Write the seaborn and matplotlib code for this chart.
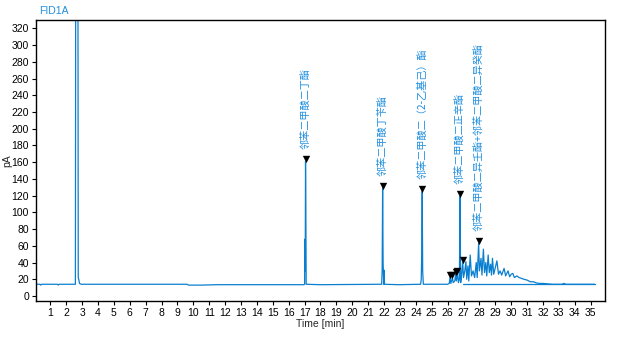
import matplotlib
matplotlib.use("Agg")
import matplotlib.pyplot as plt
import seaborn as sns
import pandas as pd

# Chromatogram trace (time in min, signal in pA)
time = [0.10, 0.35, 0.40, 0.45, 1.45, 1.50, 1.55, 2.58, 2.60, 2.74, 2.76, 2.79, 2.84, 2.95,
        9.0, 9.6, 9.7, 10.5, 11.5, 12.0, 14.5, 16.95, 17.00, 17.02, 17.04, 17.06, 17.08, 17.10,
        18.0, 21.85, 21.88, 21.91, 21.94, 21.98, 22.00, 22.03, 22.9, 24.30, 24.34, 24.37, 24.40,
        24.43, 24.47, 25.5, 26.00, 26.10, 26.15, 26.20, 26.30, 26.35, 26.45, 26.50, 26.55,
        26.62, 26.68, 26.74, 26.78, 26.82, 26.88, 26.95, 27.00, 27.08, 27.15, 27.20, 27.28,
        27.33, 27.42, 27.50, 27.60, 27.70, 27.80, 27.86, 27.95, 28.00, 28.10, 28.16, 28.25,
        28.32, 28.40, 28.46, 28.55, 28.62, 28.70, 28.76, 28.82, 28.90, 29.00, 29.10, 29.20,
        29.30, 29.40, 29.55, 29.65, 29.80, 29.90, 30.00, 30.10, 30.20, 30.35, 30.50, 30.65,
        30.80, 31.00, 31.20, 31.40, 31.60, 31.80, 32.00, 32.30, 32.60, 33.20, 33.30, 33.45,
        34.00, 35.25]
signal = [14.0, 14.0, 13.0, 14.0, 14.0, 13.0, 14.0, 14.0, 400.0, 400.0, 22.0, 20.0, 15.0, 14.0,
          14.0, 14.0, 13.0, 13.0, 13.5, 13.5, 13.5, 13.5, 14.0, 68.0, 30.0, 161.0, 100.0, 14.0,
          13.5, 14.0, 30.0, 129.0, 40.0, 14.0, 31.0, 14.0, 13.5, 14.0, 20.0, 50.0, 125.0,
          30.0, 14.0, 14.0, 14.0, 15.0, 22.0, 15.0, 22.0, 16.0, 18.0, 26.0, 18.0,
          27.0, 16.0, 20.0, 119.0, 16.0, 25.0, 40.0, 22.0, 30.0, 41.0, 20.0, 36.0,
          18.0, 49.0, 24.0, 30.0, 22.0, 40.0, 22.0, 63.0, 30.0, 45.0, 25.0, 56.0,
          28.0, 40.0, 24.0, 49.0, 28.0, 38.0, 25.0, 45.0, 26.0, 34.0, 42.0, 26.0,
          30.0, 25.0, 33.0, 24.0, 30.0, 23.0, 26.0, 27.0, 22.0, 24.0, 22.0, 21.0,
          20.0, 19.0, 17.0, 17.0, 15.5, 15.0, 15.0, 14.5, 14.0, 14.0, 15.0, 14.0,
          14.0, 14.0]

# Baseline drawn under the late hump
base_time = [26.95, 35.25]
base_signal = [14.0, 14.0]

# Marked peaks
peak_time = [17.06, 21.91, 24.40, 26.78, 27.95]
peak_height = [161.0, 129.0, 125.0, 119.0, 63.0]
peak_names = ["邻苯二甲酸二丁酯", "邻苯二甲酸丁苄酯", "邻苯二甲酸二（2-乙基己）酯",
              "邻苯二甲酸二正辛酯", "邻苯二甲酸二异壬酯+邻苯二甲酸二异癸酯"]

# Unlabelled small peak markers
small_time = [26.15, 26.30, 26.50, 26.62, 26.95]
small_height = [22.0, 22.0, 26.0, 27.0, 40.0]

x_ticks = list(range(1, 36))
y_ticks = list(range(0, 321, 20))

sns.set_style("ticks")
plt.rcParams["font.family"] = ["Liberation Sans", "Noto Sans CJK SC", "DejaVu Sans"]

line_color = "#0a7fd0"
label_color = "#1e8fe0"

fig = plt.figure(figsize=(6.3, 3.42), dpi=100)
ax = fig.add_axes([0.0571, 0.1199, 0.9032, 0.8216])

trace = pd.DataFrame({"t": time, "s": signal})
sns.lineplot(data=trace, x="t", y="s", sort=False, estimator=None, color=line_color,
             linewidth=0.9, ax=ax)
sns.lineplot(x=base_time, y=base_signal, sort=False, estimator=None, color=line_color,
             linewidth=0.9, ax=ax)

marks = pd.DataFrame({"t": peak_time + small_time, "h": peak_height + small_height})
sns.scatterplot(data=marks, x="t", y=[h + 3 for h in marks["h"]], marker="v", color="black",
                s=28, edgecolor="black", linewidth=0, ax=ax, zorder=5)

for t, h, name in zip(peak_time, peak_height, peak_names):
    ax.annotate(name, xy=(t, h), xytext=(0, 9), textcoords="offset points",
                rotation=90, ha="center", va="bottom", fontsize=7.3, color=label_color,
                family=["Noto Sans CJK SC", "DejaVu Sans"])

ax.set_xlim(0.1, 35.9)
ax.set_ylim(-6, 330)
ax.set_xticks(x_ticks)
ax.set_yticks(y_ticks)
ax.tick_params(axis="both", labelsize=7.5, length=3, width=0.8, pad=2, colors="black")
for sp in ax.spines.values():
    sp.set_linewidth(1.0)
    sp.set_color("black")
ax.set_xlabel("Time [min]", fontsize=7.5, labelpad=1)
ax.set_ylabel("pA", fontsize=7.5)
ax.yaxis.set_label_coords(-0.041, 0.5)
fig.text(0.062, 0.968, "FID1A", color=label_color, fontsize=7.5, ha="left", va="center")

fig.savefig("out.png", dpi=100)
